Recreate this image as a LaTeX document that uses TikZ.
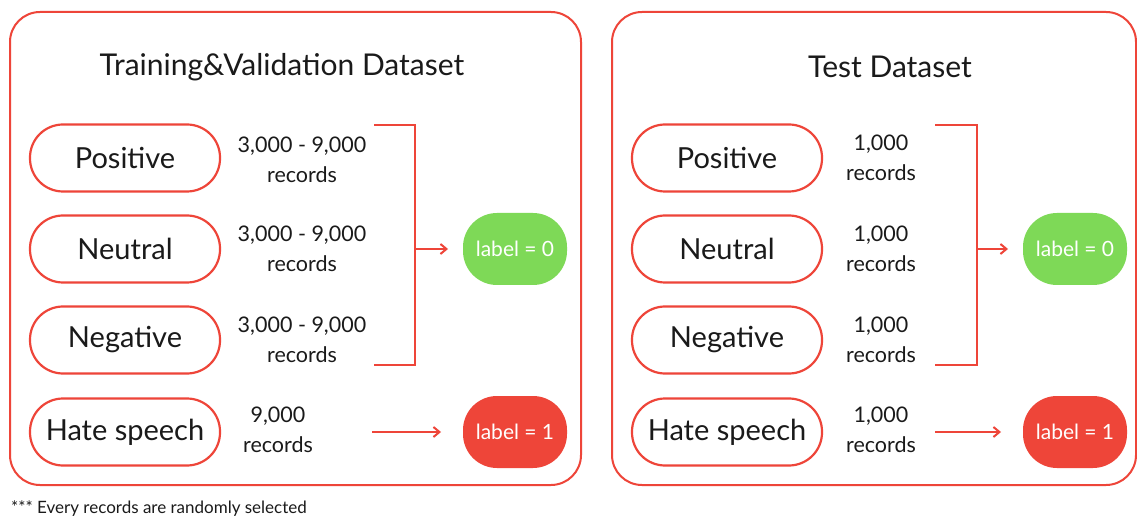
\documentclass[tikz,border=0pt]{standalone}
\usepackage{fontspec}
\setmainfont{Lato}
\usetikzlibrary{arrows.meta}
\definecolor{rd}{HTML}{EE4539}
\definecolor{gn}{HTML}{7ED957}
\definecolor{txt}{HTML}{1A1A1A}
\begin{document}
\begin{tikzpicture}[x=1pt,y=-1pt,
  panel/.style={draw=rd,line width=2pt,rounded corners=30pt},
  cat/.style={draw=rd,line width=2.2pt,rounded corners=33pt,minimum width=190pt,minimum height=67pt,font=\fontsize{29}{32}\selectfont,text=txt,inner sep=0pt},
  rec/.style={align=center,font=\fontsize{21.5}{30}\selectfont,text=txt},
  lab/.style={fill=#1,rounded corners=34pt,minimum width=104pt,minimum height=72pt,text=white,font=\fontsize{21}{24}\selectfont,inner sep=0pt},
  ttl/.style={font=\fontsize{30}{32}\selectfont,text=txt},
  conn/.style={draw=rd,line width=2pt},
  arr/.style={conn,-{Straight Barb[length=6pt,width=10pt]}}
]
\useasboundingbox (0,0) rectangle (1137,518);
\fill[white] (0,0) rectangle (1137,518);
% panels
\draw[panel] (10,12) rectangle (581,485);
\draw[panel] (612,12) rectangle (1136,485);
\node[ttl] (t1) at (282,67) {Training\&Validation Dataset};
\node[ttl] (t2) at (890,67) {Test Dataset};
% left panel
\node[cat] (lpos) at (125,158) {Positive};
\node[cat] (lneu) at (125,249) {Neutral};
\node[cat] (lneg) at (125,340) {Negative};
\node[cat] (lhat) at (125,432) {Hate speech};
\node[rec] (lrpos) at (302,160) {3,000 - 9,000\\records};
\node[rec] (lrneu) at (302,249) {3,000 - 9,000\\records};
\node[rec] (lrneg) at (302,340) {3,000 - 9,000\\records};
\node[rec] (lrhat) at (278,430) {9,000\\records};
\node[lab=gn] (l0) at (515,249) {label = 0};
\node[lab=rd] (l1) at (515,432) {label = 1};
\coordinate (lbt) at (374,125);
\coordinate (lbb) at (374,365);
\coordinate (lbm) at (415,249);
\coordinate (lha) at (372,432);
\draw[conn] (lbt) -| (415,365) -- (lbb);
\draw[arr] (lbm) -- (448,249);
\draw[arr] (lha) -- (441,432);
% right panel
\node[cat] (rpos) at (727,158) {Positive};
\node[cat] (rneu) at (727,249) {Neutral};
\node[cat] (rneg) at (727,340) {Negative};
\node[cat] (rhat) at (727,432) {Hate speech};
\node[rec] (rrpos) at (881,158) {1,000\\records};
\node[rec] (rrneu) at (881,249) {1,000\\records};
\node[rec] (rrneg) at (881,340) {1,000\\records};
\node[rec] (rrhat) at (881,430) {1,000\\records};
\node[lab=gn] (r0) at (1075,249) {label = 0};
\node[lab=rd] (r1) at (1075,432) {label = 1};
\coordinate (rbt) at (935,125);
\coordinate (rbb) at (935,365);
\coordinate (rbm) at (977,249);
\coordinate (rha) at (935,432);
\draw[conn] (rbt) -| (977,365) -- (rbb);
\draw[arr] (rbm) -- (1008,249);
\draw[arr] (rha) -- (1001,432);
% footnote
\node[anchor=west,font=\fontsize{17}{19}\selectfont,text=txt,inner sep=0pt] (fn) at (11,509) {*** Every records are randomly selected};
\end{tikzpicture}
\end{document}
